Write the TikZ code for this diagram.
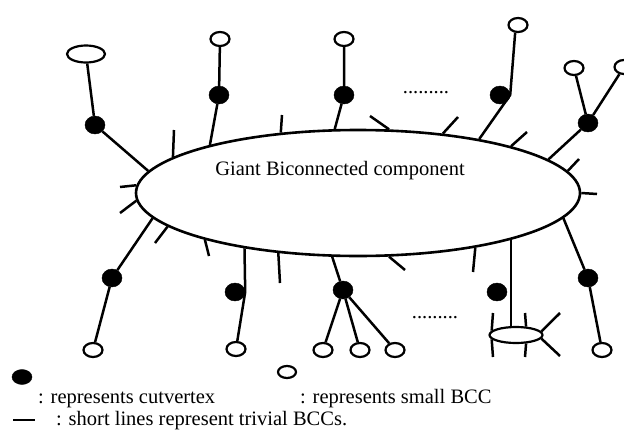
\documentclass[tikz,border=0pt]{standalone}
\usepackage{fontspec}
\setmainfont{Liberation Serif}
\usetikzlibrary{shapes.geometric}
\tikzset{
  gbc/.style={ellipse, draw, line width=2.6pt, minimum width=444pt, minimum height=126pt, inner sep=0pt},
  cutv/.style={ellipse, draw, fill=black, minimum width=20pt, minimum height=18pt, inner sep=0pt},
  sbcc/.style={ellipse, draw, line width=2.2pt, fill=white, minimum width=19pt, minimum height=14pt, inner sep=0pt},
  edge/.style={line width=2.5pt},
  lbl/.style={font=\fontsize{20.5}{24}\selectfont, inner sep=0pt}
}

\begin{document}
\begin{tikzpicture}[x=1pt,y=-1pt]
        \useasboundingbox (0,0) rectangle (624,434);
        %giant component
        \node[gbc] (gbc) at (358,193) {};
        \node[lbl, anchor=base] (gbclabel) at (340,175) {Giant Biconnected component};

        %nodes above
        \node[sbcc, minimum width=38pt, minimum height=17pt] (s1) at (86,54) {};
        \node[cutv] (cv1) at (95,125) {};
        \node[sbcc] (s2) at (220,39) {};
        \node[cutv] (cv2) at (219,95) {};
        \node[sbcc] (s3) at (344,39) {};
        \node[cutv] (cv3) at (344,95) {};
        \node[lbl, anchor=base] (dots1) at (426,93) {.........};
        \node[sbcc] (s4) at (518,25) {};
        \node[cutv] (cv4) at (500,95) {};
        \node[cutv] (cv5) at (588,123) {};
        \node[sbcc] (s5a) at (574,68) {};
        \node[sbcc] (s5b) at (624,67) {};

        %nodes below
        \node[cutv] (cv6) at (588,278) {};
        \node[sbcc] (s6) at (602,350) {};
        \node[sbcc, minimum width=53pt, minimum height=16pt] (se) at (516,335) {};
        \node[cutv] (cv7) at (497,292) {};
        \node[lbl, anchor=base] (dots2) at (435,318) {.........};
        \node[cutv] (cv8) at (343,290) {};
        \node[sbcc] (s8a) at (323,350) {};
        \node[sbcc] (s8b) at (360,350) {};
        \node[sbcc] (s8c) at (395,350) {};
        \node[cutv] (cv9) at (235,292) {};
        \node[sbcc] (s9) at (236,349) {};
        \node[cutv] (cv10) at (112,278) {};
        \node[sbcc] (s10) at (93,350) {};

        %edges
        \draw[edge] (s1) -- (cv1) -- (gbc.174);
        \draw[edge] (s2) -- (cv2) -- (gbc.162);
        \draw[edge] (s3) -- (cv3) -- (gbc.110);
        \draw[edge] (s4.250) -- (cv4.east) -- (gbc.24);
        \draw[edge] (s5a) -- (cv5) -- (s5b);
        \draw[edge] (cv5) -- (gbc.10);
        \draw[edge] (gbc.353) -- (cv6) -- (s6);
        \draw[edge] (gbc.343) -- (se.north -| gbc.343);
        \draw[edge] (gbc.248) -- (cv8);
        \draw[edge] (cv8) -- (s8a);
        \draw[edge] (cv8) -- (s8b);
        \draw[edge] (cv8) -- (s8c);
        \draw[edge] (gbc.206) -- (cv9.east) -- (s9);
        \draw[edge] (gbc.187) -- (cv10) -- (s10);

        %trivial BCCs
        \coordinate (t1e) at (174,130);
        \coordinate (t2e) at (282,115);
        \coordinate (t3e) at (370,116);
        \coordinate (t4e) at (458,117);
        \coordinate (t5e) at (527,132);
        \coordinate (t6e) at (579,159);
        \coordinate (t7e) at (597,194);
        \coordinate (t8e) at (473,272);
        \coordinate (t9e) at (405,270);
        \coordinate (t10e) at (280,283);
        \coordinate (t11e) at (209,256);
        \coordinate (t12e) at (155,243);
        \coordinate (t13e) at (120,213);
        \coordinate (t14e) at (120,187);
        \draw[edge] (gbc.169) -- (t1e);
        \draw[edge] (gbc.142) -- (t2e);
        \draw[edge] (gbc.64) -- (t3e);
        \draw[edge] (gbc.35) -- (t4e);
        \draw[edge] (gbc.17) -- (t5e);
        \draw[edge] (gbc.6) -- (t6e);
        \draw[edge] (gbc.0) -- (t7e);
        \draw[edge] (gbc.335) -- (t8e);
        \draw[edge] (gbc.296) -- (t9e);
        \draw[edge] (gbc.217) -- (t10e);
        \draw[edge] (gbc.197) -- (t11e);
        \draw[edge] (gbc.190) -- (t12e);
        \draw[edge] (gbc.182) -- (t13e);
        \draw[edge] (gbc.178) -- (t14e);

        \coordinate (u1e) at (493,313);
        \coordinate (u2e) at (493,357);
        \coordinate (u3e) at (525,313);
        \coordinate (u4e) at (525,357);
        \coordinate (u5e) at (560,313);
        \coordinate (u6e) at (560,356);
        \draw[edge] (se.170) -- (u1e);
        \draw[edge] (se.190) -- (u2e);
        \draw[edge] (se.40) -- (u3e);
        \draw[edge] (se.320) -- (u4e);
        \draw[edge] (se.8) -- (u5e);
        \draw[edge] (se.352) -- (u6e);

        %legend
        \node[cutv, minimum width=20pt, minimum height=15pt] (ldot) at (22,377) {};
        \node[lbl, anchor=base west] (ltext1) at (38,403) {: represents cutvertex};
        \node[sbcc, minimum width=18pt, minimum height=12pt] (lcirc) at (287,372) {};
        \node[lbl, anchor=base west] (ltext2) at (300,403) {: represents small BCC};
        \coordinate (la) at (13,420);
        \coordinate (lb) at (35,420);
        \draw[edge, line width=2pt] (la) -- (lb);
        \node[lbl, anchor=base west] (ltext3) at (56,425) {: short lines represent trivial BCCs.};
\end{tikzpicture}
\end{document}
